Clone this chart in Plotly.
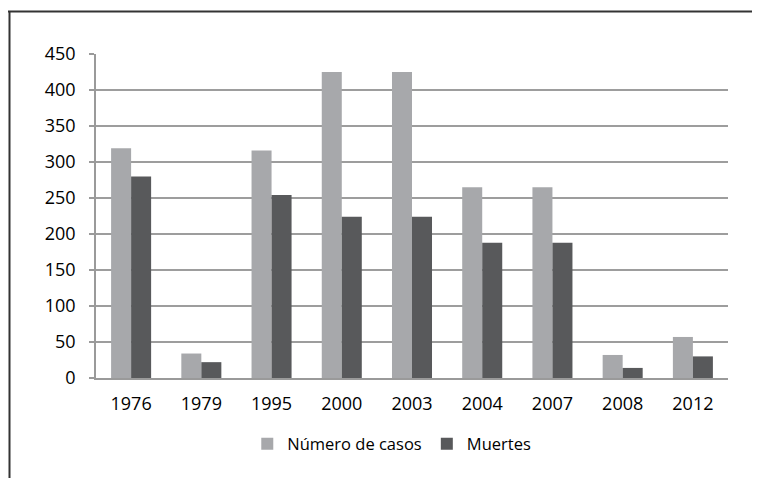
import plotly.graph_objects as go

years = ["1976", "1979", "1995", "2000", "2003", "2004", "2007", "2008", "2012"]
casos = [319, 34, 316, 425, 425, 265, 265, 32, 57]
muertes = [280, 22, 254, 224, 224, 188, 188, 14, 30]

font_family = "Open Sans"

fig = go.Figure()
fig.add_trace(go.Bar(x=years, y=casos, name="Número de casos",
                     marker=dict(color="#A7A8AB", line=dict(width=0))))
fig.add_trace(go.Bar(x=years, y=muertes, name="Muertes",
                     marker=dict(color="#58595B", line=dict(width=0))))

OFF = 8  # page body margin
W, H = 760 - OFF, 478 - OFF
L, R, T, B = 96 - OFF, 760 - 728, 54 - OFF, 478 - 378
pw, ph = W - L - R, H - T - B

def px2x(px):
    return (px - OFF - L) / pw

def py2y(py):
    return (H - B - (py - OFF)) / ph

fig.update_layout(
    width=W, height=H,
    margin=dict(l=L, r=R, t=T, b=B, pad=0),
    paper_bgcolor="white", plot_bgcolor="white",
    barmode="group", bargap=0.43, bargroupgap=0,
    font=dict(family=font_family, size=18, color="#000000"),
    showlegend=True,
    legend=dict(orientation="h", x=0.468, xanchor="center", y=py2y(444), yanchor="middle",
                font=dict(size=16.5), itemwidth=30, traceorder="normal"),
    xaxis=dict(showgrid=False, showline=True, linecolor="#9a9a9a", linewidth=1.5,
               ticks="", ticklabelstandoff=9, tickfont=dict(size=18)),
    yaxis=dict(range=[0, 450], dtick=50, showgrid=True, gridcolor="#9d9d9d", gridwidth=1.5,
               showline=True, linecolor="#9a9a9a", linewidth=1.5, zeroline=False,
               ticks="outside", ticklen=5, tickcolor="#9a9a9a", tickwidth=1.5,
               ticklabelstandoff=10, tickfont=dict(size=18)),
    shapes=[
        dict(type="line", xref="paper", yref="paper", x0=px2x(8), x1=px2x(760),
             y0=py2y(11.5), y1=py2y(11.5), line=dict(color="#333333", width=2)),
        dict(type="line", xref="paper", yref="paper", x0=px2x(9.5), x1=px2x(9.5),
             y0=py2y(11.5), y1=py2y(478), line=dict(color="#333333", width=2)),
    ],
)

fig.write_html("out.html")
